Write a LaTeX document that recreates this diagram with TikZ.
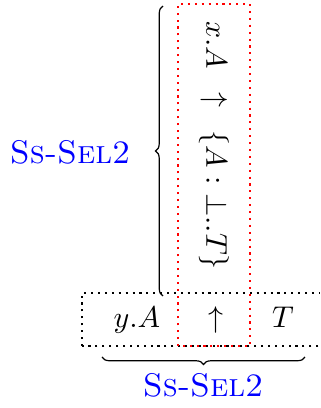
\documentclass[tikz,border=0pt]{standalone}
\usetikzlibrary{decorations.pathreplacing}
\begin{document}
\begin{tikzpicture}[x=0.3333pt,y=0.3333pt,
  lbl/.style={text=blue, font=\fontsize{10.9}{13}\selectfont\scshape, inner sep=0pt, anchor=base},
  cell/.style={inner sep=0pt, anchor=base},
  dotbox/.style={line width=0.7pt, dash pattern=on 0.7pt off 1.6pt},
  bracedeco/.style={decorate, decoration={brace, amplitude=2.5pt}}]
\clip (0,0) rectangle (320,408);
% boxes
\draw[dotbox, black] (82,62) rectangle (330,115);
\draw[dotbox, red] (178,62) rectangle (250,404);
% vertical text
\node[inner sep=0pt, rotate=-90] (vt) at (214,262.5)
  {$x.A \mathrel{\kern5pt\uparrow\kern5pt} \{A:\bot..T\}$};
% bottom row
\node[cell] (ya) at (137,80) {$y.A$};
\node[cell] (up) at (216,80) {$\uparrow$};
\node[cell] (tt) at (283,80) {$T$};
% braces
\coordinate (lb1) at (163,112);
\coordinate (lb2) at (163,402);
\draw[bracedeco] (lb1) -- (lb2);
\coordinate (bb1) at (305,51);
\coordinate (bb2) at (102,51);
\draw[bracedeco] (bb1) -- (bb2);
% labels
\node[lbl] (ll) at (70,245) {Ss-Sel2};
\node[lbl] (bl) at (203,11) {Ss-Sel2};
\end{tikzpicture}
\end{document}
